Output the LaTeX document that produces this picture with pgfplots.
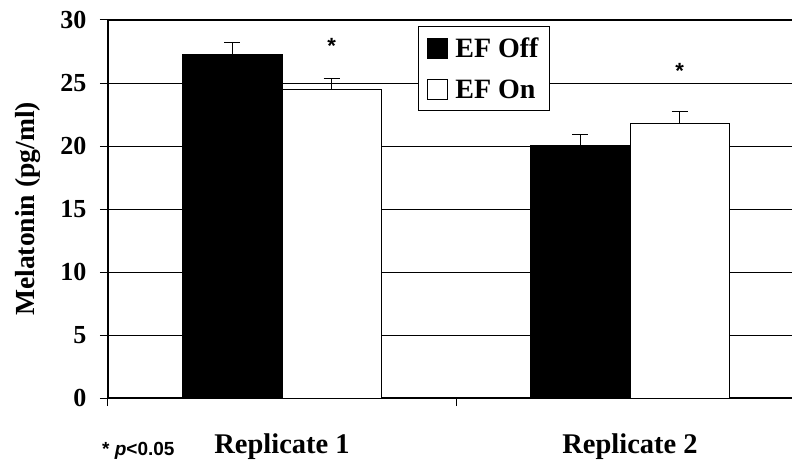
\documentclass[border=0pt]{standalone}
\usepackage{fontspec}
\setmainfont{Liberation Serif}
\newfontfamily\arialfont{Liberation Sans}
\usepackage{pgfplots}
\pgfplotsset{compat=1.18}

\pgfplotsset{
  sq legend/.style={legend image code/.code={%
      \draw[##1, line width=1pt] (0pt,-10pt) rectangle (20pt,10pt);
      \path (25pt,0pt);}},
}

\begin{document}
\begin{tikzpicture}
\begin{axis}[
  scale only axis, width=684pt, height=378pt,
  xmin=0.5, xmax=2.4655, ymin=0, ymax=30,
  ybar,
  axis x line=bottom, axis y line=left,
  axis line style={-, line width=1.2pt},
  ytick={0,5,...,30},
  ymajorgrids, grid style={black, line width=0.9pt},
  extra y ticks={30}, extra y tick labels={},
  extra y tick style={grid style={black, line width=2pt}},
  tick align=outside, major tick length=8pt,
  tick style={black, line width=1pt},
  xtick={0.5,1.5}, xticklabels={Replicate 1, Replicate 2},
  x tick label style={xshift=174pt, yshift=-24pt, font=\bfseries\fontsize{28.5}{32}\selectfont},
  y tick label style={xshift=-10pt, font=\bfseries\fontsize{26}{30}\selectfont},
  /pgf/number format/assume math mode=true,
  ylabel={Melatonin (pg/ml)},
  ylabel style={at={(axis description cs:-0.117,0.5)}, anchor=center,
    font=\bfseries\fontsize{27.6}{30}\selectfont},
  legend style={at={(rel axis cs:0.453,0.984)}, anchor=north west,
    draw=black, line width=1pt, fill=white,
    font=\bfseries\fontsize{28}{32}\selectfont,
    row sep=17pt, inner xsep=9pt, inner ysep=9pt},
  legend cell align=left,
]
\coordinate (O) at (rel axis cs:0,0);

% EF Off
\addplot[ybar, bar width=0.285, bar shift=-0.1425, fill=black, draw=black,
  line width=1pt, sq legend,
  error bars/.cd, y dir=plus, y explicit,
  error bar style={line width=1pt, black},
  error mark options={rotate=90, mark size=8pt, line width=1pt, black}]
  coordinates {(1,27.3) +- (0,0.9) (2,20.05) +- (0,0.85)};
\addlegendentry{EF Off}

% EF On
\addplot[ybar, bar width=0.285, bar shift=0.1425, fill=white, draw=black,
  line width=1pt, sq legend,
  error bars/.cd, y dir=plus, y explicit,
  error bar style={line width=1pt, black},
  error mark options={rotate=90, mark size=8pt, line width=1pt, black}]
  coordinates {(1,24.5) +- (0,0.85) (2,21.8) +- (0,0.9)};
\addlegendentry{EF On}

% significance markers
\node[anchor=base, inner sep=0pt, font=\arialfont\bfseries\fontsize{22}{22}\selectfont]
  at (axis cs:1.1425,27.35) {*};
\node[anchor=base, inner sep=0pt, font=\arialfont\bfseries\fontsize{22}{22}\selectfont]
  at (axis cs:2.1425,25.35) {*};
\end{axis}

\node[anchor=base west, inner sep=0pt, font=\arialfont\bfseries\fontsize{19}{19}\selectfont]
  at ([xshift=-6pt, yshift=-57pt]O) {* \textit{p}<0.05};

\pgfresetboundingbox
\path[use as bounding box] ([shift={(-108pt,-63pt)}]O) rectangle ([shift={(684pt,398pt)}]O);
\end{tikzpicture}
\end{document}
